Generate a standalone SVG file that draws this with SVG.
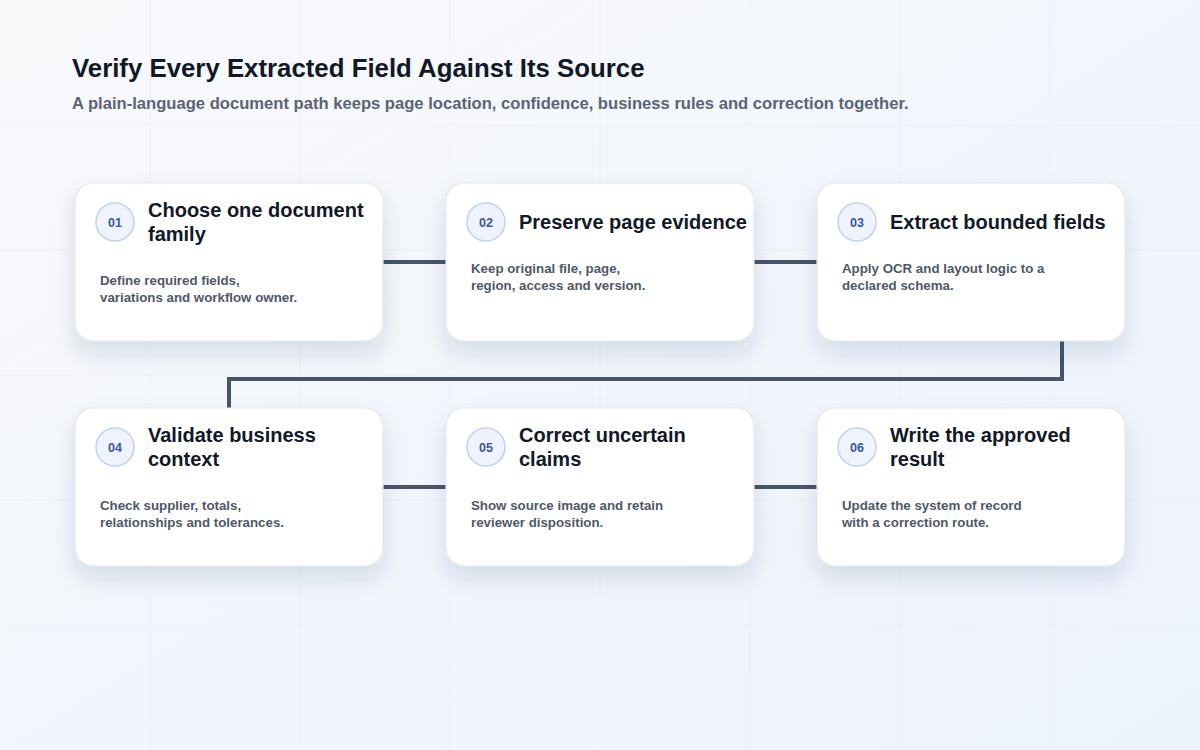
<svg xmlns="http://www.w3.org/2000/svg" width="1200" height="750" viewBox="0 0 1200 750">
<defs>
<linearGradient id="bg" x1="0" y1="0" x2="1" y2="1">
<stop offset="0" stop-color="#f8f9fb"/>
<stop offset="1" stop-color="#edf3fd"/>
</linearGradient>
<filter id="sh" x="-20%" y="-20%" width="140%" height="170%">
<feDropShadow dx="0" dy="12" stdDeviation="11" flood-color="#1e2a50" flood-opacity="0.13"/>
</filter>
</defs>
<style>
.card{fill:#ffffff;stroke:#e2e7ef;stroke-width:1.2;filter:url(#sh)}
.badge{fill:#eef3fd;stroke:#c3d1ee;stroke-width:1.5}
.num{font-family:"Liberation Sans",Arial,sans-serif;font-size:12.5px;font-weight:700;fill:#3556a2;text-anchor:middle}
.ttl{font-family:"Liberation Sans",Arial,sans-serif;font-size:20px;font-weight:700;fill:#111827}
.desc{font-family:"Liberation Sans",Arial,sans-serif;font-size:13.3px;font-weight:700;fill:#4f5868}
.grid{stroke:#edf0f5;stroke-width:1}
.conn{fill:none;stroke:#465569;stroke-width:4}
</style>
<rect width="1200" height="750" fill="url(#bg)"/>
<g id="grid">
<path class="grid" d="M150 0V750M300 0V750M450 0V750M600 0V750M750 0V750M900 0V750M1050 0V750M0 125H1200M0 250H1200M0 375H1200M0 500H1200M0 625H1200"/>
</g>
<g id="header">
<text x="72" y="77" font-family="'Liberation Sans',Arial,sans-serif" font-size="25.8" font-weight="700" fill="#111827">Verify Every Extracted Field Against Its Source</text>
<text x="72" y="109" font-family="'Liberation Sans',Arial,sans-serif" font-size="16.6" font-weight="700" fill="#5b6477">A plain-language document path keeps page location, confidence, business rules and correction together.</text>
</g>
<g id="connectors">
<path class="conn" d="M383 262H446"/>
<path class="conn" d="M754 262H817"/>
<path class="conn" d="M1062 341V379H229V408"/>
<path class="conn" d="M383 487H446"/>
<path class="conn" d="M754 487H817"/>
</g>
<g id="node01">
<rect class="card" x="75" y="183" width="308" height="158" rx="18"/>
<circle class="badge" cx="115" cy="222" r="19"/>
<text class="num" x="115" y="226.5">01</text>
<text class="ttl" x="148" y="217">Choose one document</text>
<text class="ttl" x="148" y="241">family</text>
<text class="desc" x="100" y="285">Define required fields,</text>
<text class="desc" x="100" y="302">variations and workflow owner.</text>
</g>
<g id="node02">
<rect class="card" x="446" y="183" width="308" height="158" rx="18"/>
<circle class="badge" cx="486" cy="222" r="19"/>
<text class="num" x="486" y="226.5">02</text>
<text class="ttl" x="519" y="229">Preserve page evidence</text>
<text class="desc" x="471" y="273">Keep original file, page,</text>
<text class="desc" x="471" y="290">region, access and version.</text>
</g>
<g id="node03">
<rect class="card" x="817" y="183" width="308" height="158" rx="18"/>
<circle class="badge" cx="857" cy="222" r="19"/>
<text class="num" x="857" y="226.5">03</text>
<text class="ttl" x="890" y="229">Extract bounded fields</text>
<text class="desc" x="842" y="273">Apply OCR and layout logic to a</text>
<text class="desc" x="842" y="290">declared schema.</text>
</g>
<g id="node04">
<rect class="card" x="75" y="408" width="308" height="158" rx="18"/>
<circle class="badge" cx="115" cy="447" r="19"/>
<text class="num" x="115" y="451.5">04</text>
<text class="ttl" x="148" y="442">Validate business</text>
<text class="ttl" x="148" y="466">context</text>
<text class="desc" x="100" y="510">Check supplier, totals,</text>
<text class="desc" x="100" y="527">relationships and tolerances.</text>
</g>
<g id="node05">
<rect class="card" x="446" y="408" width="308" height="158" rx="18"/>
<circle class="badge" cx="486" cy="447" r="19"/>
<text class="num" x="486" y="451.5">05</text>
<text class="ttl" x="519" y="442">Correct uncertain</text>
<text class="ttl" x="519" y="466">claims</text>
<text class="desc" x="471" y="510">Show source image and retain</text>
<text class="desc" x="471" y="527">reviewer disposition.</text>
</g>
<g id="node06">
<rect class="card" x="817" y="408" width="308" height="158" rx="18"/>
<circle class="badge" cx="857" cy="447" r="19"/>
<text class="num" x="857" y="451.5">06</text>
<text class="ttl" x="890" y="442">Write the approved</text>
<text class="ttl" x="890" y="466">result</text>
<text class="desc" x="842" y="510">Update the system of record</text>
<text class="desc" x="842" y="527">with a correction route.</text>
</g>
</svg>
